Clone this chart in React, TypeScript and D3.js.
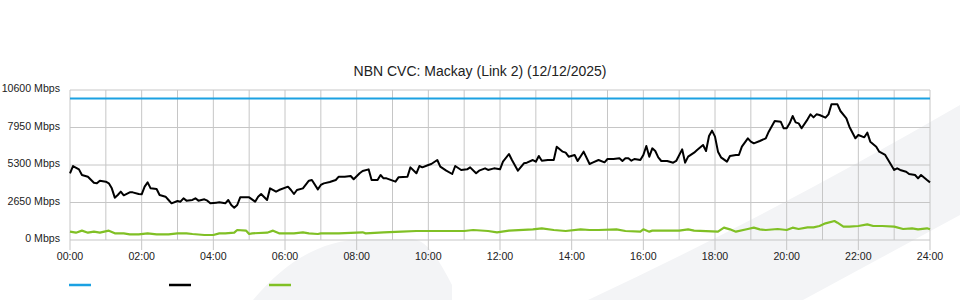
import React from "react";
import * as d3 from "d3";

const title = "NBN CVC: Mackay (Link 2) (12/12/2025)";
const xTickLabels = ["00:00","02:00","04:00","06:00","08:00","10:00","12:00","14:00","16:00","18:00","20:00","22:00","24:00"];
const yTicks = [0, 2650, 5300, 7950, 10600];
const capacityMbps = 10000;

const trafficMinutes = [0,5,15,20,30,40,45,50,60,65,70,75,80,85,90,100,105,115,120,125,130,135,145,150,160,165,170,180,185,190,195,205,210,215,225,230,235,245,250,260,265,270,275,280,285,295,300,310,315,320,330,335,345,350,365,370,375,380,390,400,405,415,420,425,435,445,450,460,470,475,485,490,500,505,515,520,525,530,545,550,565,570,580,585,590,600,605,615,620,630,640,645,655,665,670,680,685,695,700,710,720,725,735,740,750,760,765,775,780,785,790,800,810,815,825,830,835,845,850,860,870,875,885,895,900,910,920,925,930,935,940,945,955,960,965,970,975,980,985,990,1000,1010,1015,1025,1030,1035,1045,1050,1060,1065,1070,1075,1080,1085,1090,1100,1105,1115,1120,1125,1135,1140,1145,1155,1165,1170,1180,1190,1195,1200,1205,1210,1215,1220,1225,1235,1240,1245,1250,1255,1265,1270,1275,1280,1285,1290,1300,1305,1315,1320,1330,1335,1340,1350,1355,1365,1375,1380,1385,1390,1400,1405,1415,1420,1425,1435,1440];
const trafficMbps = [4713,5229,4993,4593,4474,4050,4003,4192,4121,4003,3650,2991,3180,3415,3156,3368,3368,3250,3227,3768,4073,3650,3604,3180,3062,2827,2591,2756,2709,2945,2780,2827,2945,2780,2874,2780,2591,2638,2662,2591,2827,2473,2285,2473,3015,3015,3015,2709,3062,3250,2827,3650,3415,3533,3768,3533,3250,3533,3650,4192,4240,3580,3887,4003,4099,4240,4474,4474,4523,4290,4713,4876,4993,4240,4240,4593,4357,4357,4121,4428,4474,5135,4713,5229,5135,5300,5371,5653,5182,4899,4664,5229,4947,4993,5135,4713,4899,5064,4947,5064,4993,5535,6077,5653,4899,5418,5465,5653,5535,5936,5606,5653,5653,6595,6242,6172,5889,6007,5583,6242,5371,5465,5653,5489,5724,5724,5771,5583,5771,5771,5606,5724,5653,6007,6643,5889,6478,6289,5842,5583,5583,5465,5583,6407,5465,5889,6172,6360,6713,6289,7350,7727,7303,6242,5842,5535,5936,6007,6007,6595,7185,6950,6831,6996,7185,7656,8409,8362,7892,7892,8244,8762,8315,8244,7892,8527,8880,8668,8880,8833,8644,8880,9589,9589,9589,9116,8597,8008,7185,7420,7256,7585,6950,6595,6242,6007,5300,4947,5064,4947,4829,4664,4593,4357,4593,4240,4073];

const baselineMinutes = [0,10,20,30,40,50,65,75,90,100,115,130,145,165,180,195,205,225,240,250,260,275,280,295,300,305,330,340,350,375,390,400,415,420,450,490,495,525,555,580,620,660,675,700,715,735,775,790,810,830,855,870,885,915,930,955,960,970,975,1020,1035,1045,1085,1095,1105,1115,1135,1145,1155,1165,1185,1200,1210,1220,1235,1245,1255,1265,1280,1285,1295,1305,1320,1335,1345,1360,1380,1395,1410,1420,1435,1440];
const baselineMbps = [589,518,660,518,589,518,660,471,471,400,400,471,400,400,471,471,424,353,353,471,471,518,707,660,424,471,518,660,471,471,542,471,424,471,471,542,471,542,589,636,636,636,707,636,542,660,754,825,707,636,754,707,707,754,636,589,754,589,660,660,754,660,589,872,754,589,777,872,754,707,777,707,872,777,895,895,989,1178,1343,1225,942,942,989,1107,989,989,942,777,825,754,825,754];

const W = 960, H = 300;
const M = { left: 70, right: 30, top: 90, bottom: 60 };
const FONT = "'Liberation Sans', Arial, Helvetica, sans-serif";

export default function App() {
  const x = d3.scaleLinear().domain([0, 1440]).range([M.left, W - M.right]);
  const y = d3.scaleLinear().domain([0, 10600]).range([H - M.bottom, M.top]);
  const traffic = trafficMinutes.map((m, i) => [m, trafficMbps[i]] as [number, number]);
  const baseline = baselineMinutes.map((m, i) => [m, baselineMbps[i]] as [number, number]);
  const line = d3.line<[number, number]>().x(d => x(d[0])).y(d => y(d[1]));
  const hours = d3.range(0, 25);
  const grid = "#c6c6c6";
  const x0 = x(0), x1 = x(1440), yTop = y(10600), yBot = y(0);

  return (
    <div style={{ position: "absolute", left: 0, top: 0 }}>
      <svg width={W} height={H} style={{ display: "block", background: "#fff" }}>
        <g fill="#f3f4f6">
          <path d="M 253 300 C 285 262, 320 240, 365 239 L 412 239 C 428 240, 440 262, 452 285 L 452 300 Z" />
          <path d="M 588 300 Q 770 215, 960 105 L 960 215 L 803 300 Z" />
        </g>
        <text x={480} y={76} textAnchor="middle" fontFamily={FONT} fontSize={14} fill="#222">{title}</text>
        {yTicks.map(v => (
          <line key={"h" + v} x1={x0} x2={x1} y1={y(v)} y2={y(v)} stroke={grid} strokeWidth={1} />
        ))}
        {hours.map(h => (
          <line key={"v" + h} x1={x(h * 60)} x2={x(h * 60)} y1={yTop} y2={h % 2 === 0 ? yBot + 10 : yBot} stroke={grid} strokeWidth={1} />
        ))}
        {yTicks.map(v => (
          <text key={"yl" + v} x={60} y={y(v) + 2} textAnchor="end" fontFamily={FONT} fontSize={10.6} fill="#222">{`${v} Mbps`}</text>
        ))}
        {xTickLabels.map((t, i) => (
          <text key={"xl" + t} x={x(i * 120)} y={260} textAnchor="middle" fontFamily={FONT} fontSize={10.6} fill="#222">{t}</text>
        ))}
        <line x1={x0} x2={x1} y1={y(capacityMbps)} y2={y(capacityMbps)} stroke="#1ba1e2" strokeWidth={2} />
        <path d={line(baseline) || ""} fill="none" stroke="#80c025" strokeWidth={2.2} strokeLinejoin="round" />
        <path d={line(traffic) || ""} fill="none" stroke="#000" strokeWidth={2} strokeLinejoin="round" />
        <line x1={69} x2={91} y1={285} y2={285} stroke="#1ba1e2" strokeWidth={2.5} />
        <line x1={169} x2={191} y1={285} y2={285} stroke="#000" strokeWidth={2.5} />
        <line x1={269} x2={291} y1={285} y2={285} stroke="#80c025" strokeWidth={2.5} />
      </svg>
    </div>
  );
}
